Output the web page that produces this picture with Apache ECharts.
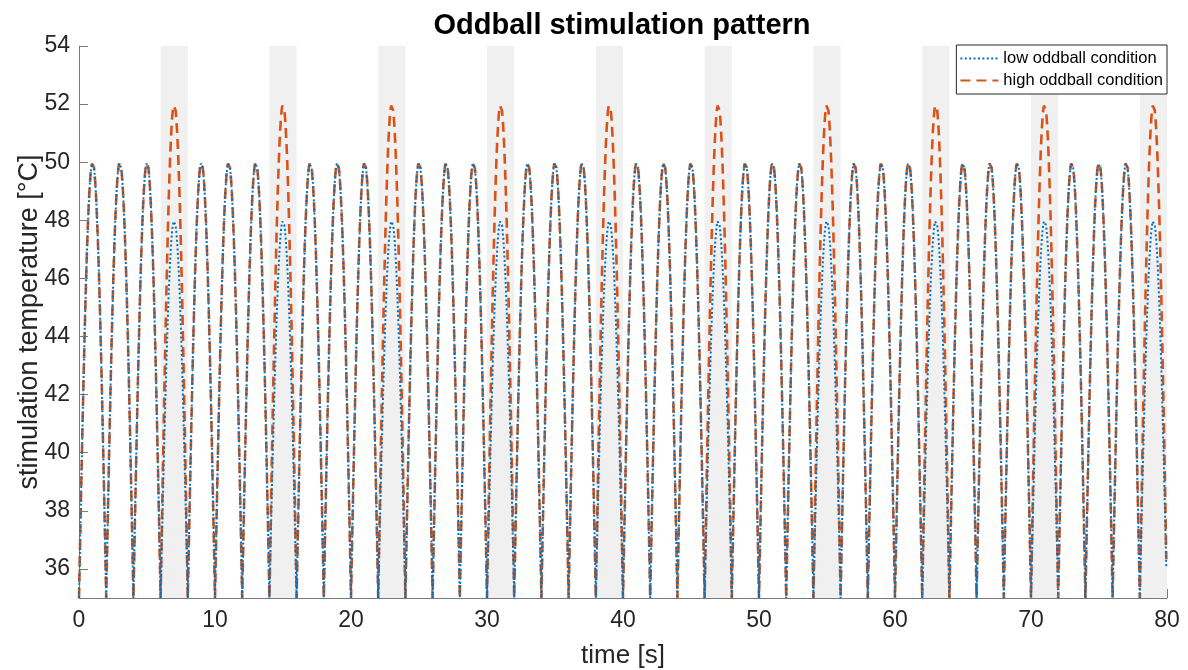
<!DOCTYPE html>
<html>
<head>
<meta charset="utf-8">
<script src="https://cdn.jsdelivr.net/npm/echarts@6/dist/echarts.min.js"></script>
<style>
html,body{margin:0;padding:0;background:#fff;}
#chart{width:1188px;height:670px;}
</style>
</head>
<body>
<div id="chart"></div>
<script>
// ---- data ----
const seriesNames = ['low oddball condition', 'high oddball condition'];
// peak temperature of each 2 s stimulation cycle (40 cycles, 0..80 s)
const lowPeaks = [
  50,50,50,48, 50,50,50,48, 50,50,50,48, 50,50,50,48, 50,50,50,48,
  50,50,50,48, 50,50,50,48, 50,50,50,48, 50,50,50,48, 50,50,50,48
];
const highPeaks = [
  50,50,50,52, 50,50,50,52, 50,50,50,52, 50,50,50,52, 50,50,50,52,
  50,50,50,52, 50,50,50,52, 50,50,50,52, 50,50,50,52, 50,50,50,52
];
const baseTemp = 35;
const cycleLength = 2;      // s
const sampleStep = 0.05;    // s
// relative height of the rising half of one pulse, sampled every 0.05 s
const pulseShape = [0, 0.0785, 0.1564, 0.2334, 0.3090, 0.3827, 0.4540, 0.5225, 0.5878, 0.6494,
  0.7071, 0.7604, 0.8090, 0.8526, 0.8910, 0.9239, 0.9511, 0.9724, 0.9877, 0.9969, 1.0];
// shaded oddball windows [s]
const shadeStart = [6, 14, 22, 30, 38, 46, 54, 62, 70, 78];
const shadeEnd   = [8, 16, 24, 32, 40, 48, 56, 64, 72, 80];
const xTicks = [0, 10, 20, 30, 40, 50, 60, 70, 80];
const yTicks = [36, 38, 40, 42, 44, 46, 48, 50, 52, 54];

function buildSeries(peaks) {
  const out = [];
  const half = pulseShape.length - 1;
  peaks.forEach((peak, c) => {
    for (let k = 0; k < 2 * half; k++) {
      const rel = k <= half ? pulseShape[k] : pulseShape[2 * half - k];
      const t = +(c * cycleLength + k * sampleStep).toFixed(3);
      out.push([t, +(baseTemp + (peak - baseTemp) * rel).toFixed(3)]);
    }
  });
  return out;
}
const lowData = buildSeries(lowPeaks);
const highData = buildSeries(highPeaks);

const chart = echarts.init(document.getElementById('chart'), null, {renderer: 'canvas'});
const font = 'Liberation Sans, Arial, Helvetica, sans-serif';
const axisGray = '#7a7a7a';
chart.setOption({
  animation: false,
  backgroundColor: '#ffffff',
  title: {
    text: 'Oddball stimulation pattern',
    left: 617, top: 6, textAlign: 'center',
    textStyle: {fontFamily: font, fontSize: 29, fontWeight: 'bold', color: '#000'}
  },
  grid: {left: 79, right: 21, top: 46, bottom: 72, containLabel: false, outerBoundsMode: 'none'},
  legend: {
    data: seriesNames,
    orient: 'vertical',
    right: 21, top: 45,
    backgroundColor: '#fff',
    borderColor: '#262626', borderWidth: 1,
    padding: [5, 4, 5, 3],
    itemWidth: 38, itemHeight: 12, itemGap: 5,
    itemStyle: {opacity: 0},
    textStyle: {fontFamily: font, fontSize: 16.5, color: '#000'}
  },
  xAxis: {
    type: 'value', min: 0, max: 80, interval: 10,
    name: 'time [s]', nameLocation: 'middle', nameGap: 45, nameMoveOverlap: false,
    nameTextStyle: {fontFamily: font, fontSize: 26, color: '#262626'},
    axisLine: {show: true, onZero: false, lineStyle: {color: axisGray, width: 1}},
    axisTick: {show: true, inside: true, length: 9, lineStyle: {color: axisGray}},
    axisLabel: {fontFamily: font, fontSize: 23, color: '#262626', margin: 11,
      customValues: xTicks},
    splitLine: {show: false}
  },
  yAxis: {
    type: 'value', min: 35, max: 54,
    name: 'stimulation temperature [°C]', nameLocation: 'middle', nameGap: 36, nameMoveOverlap: false,
    nameTextStyle: {fontFamily: font, fontSize: 27, color: '#262626'},
    axisLine: {show: true, lineStyle: {color: axisGray, width: 1}},
    axisTick: {show: true, inside: true, length: 9, lineStyle: {color: axisGray}, customValues: yTicks},
    axisLabel: {fontFamily: font, fontSize: 23, color: '#262626', margin: 9, customValues: yTicks},
    splitLine: {show: false}
  },
  series: [
    {
      name: seriesNames[1], type: 'line', data: highData, symbol: 'none', z: 2,
      color: '#D95319',
      lineStyle: {color: '#D95319', width: 2.6, type: [10, 6]},
      markArea: {
        silent: true,
        itemStyle: {color: '#F0F0F0'},
        data: shadeStart.map((s, i) => [{xAxis: s, yAxis: 35}, {xAxis: shadeEnd[i], yAxis: 54}])
      }
    },
    {
      name: seriesNames[0], type: 'line', data: lowData, symbol: 'none', z: 3,
      color: '#0072BD',
      lineStyle: {color: '#0072BD', width: 2, type: [2, 2.4]}
    }
  ]
});
</script>
</body>
</html>
